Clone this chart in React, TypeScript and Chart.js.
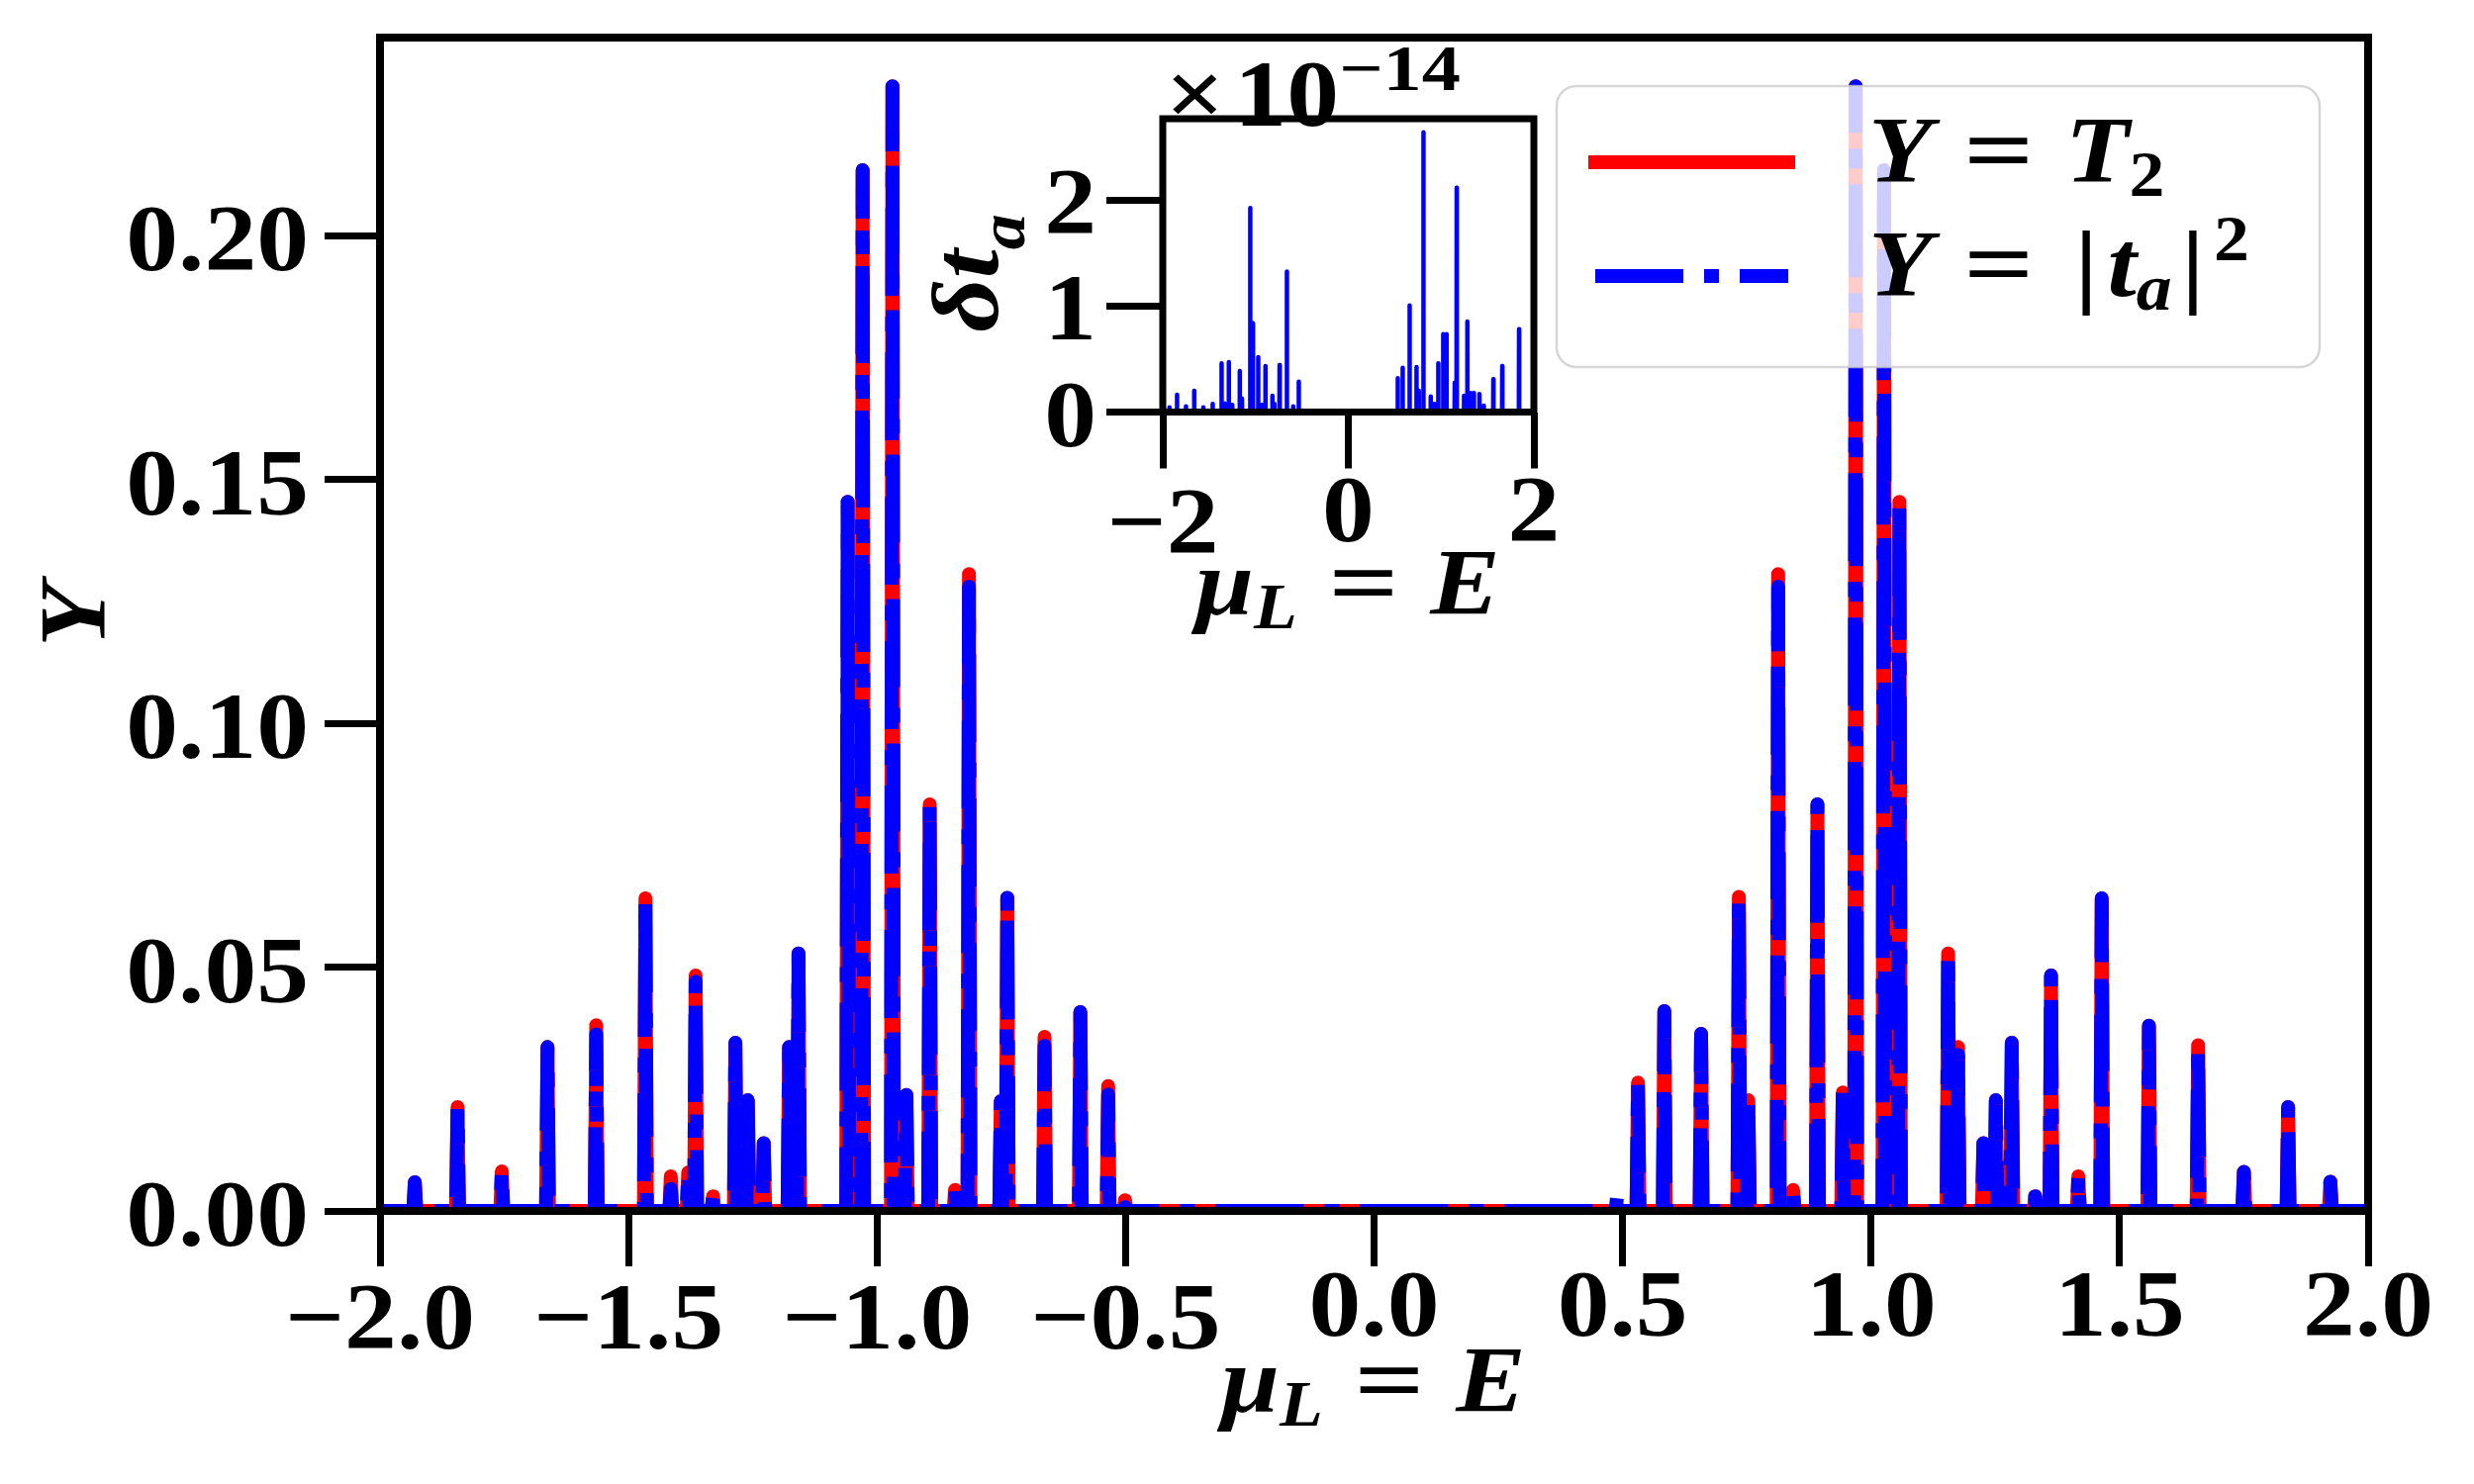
import * as React from 'react';
import Chart from 'chart.js/auto';

// main plot: resonance positions (mu_L = E) and peak heights of both curves
const peakE = [-1.930, -1.844, -1.755, -1.663, -1.565, -1.466, -1.415, -1.380, -1.365, -1.330, -1.285, -1.260, -1.228, -1.177, -1.158, -1.059, -1.029, -0.969, -0.941, -0.894, -0.843, -0.815, -0.751, -0.738, -0.663, -0.591, -0.535, -0.501,
    0.489, 0.531, 0.584, 0.658, 0.734, 0.753, 0.813, 0.843, 0.892, 0.943, 0.969, 1.026, 1.057, 1.155, 1.175, 1.226, 1.251, 1.283, 1.330, 1.362, 1.417, 1.464, 1.559, 1.658, 1.750, 1.839, 1.924];
const peakT2 = [0.0059, 0.0213, 0.0081, 0.0336, 0.0381, 0.0641, 0.0071, 0.0079, 0.0483, 0.0030, 0.0345, 0.0227, 0.0139, 0.0336, 0.0528, 0.1454, 0.2134, 0.2306, 0.0238, 0.0834, 0.0043, 0.1306, 0.0225, 0.0642, 0.0357, 0.0408, 0.0256, 0.0022,
    0.0010, 0.0263, 0.0410, 0.0363, 0.0644, 0.0227, 0.1306, 0.0043, 0.0834, 0.0243, 0.2306, 0.2134, 0.1454, 0.0528, 0.0336, 0.0139, 0.0227, 0.0345, 0.0030, 0.0483, 0.0071, 0.0641, 0.0380, 0.0340, 0.0080, 0.0213, 0.0060];
const peakTa = [0.0059, 0.0210, 0.0080, 0.0336, 0.0362, 0.0641, 0.0045, 0.0079, 0.0470, 0.0030, 0.0345, 0.0227, 0.0139, 0.0336, 0.0528, 0.1454, 0.2134, 0.2306, 0.0238, 0.0834, 0.0043, 0.1280, 0.0225, 0.0642, 0.0339, 0.0408, 0.0239, 0.0008,
    0.0030, 0.0263, 0.0410, 0.0363, 0.0644, 0.0227, 0.1280, 0.0043, 0.0834, 0.0243, 0.2306, 0.2134, 0.1454, 0.0528, 0.0320, 0.0139, 0.0227, 0.0345, 0.0030, 0.0483, 0.0071, 0.0641, 0.0380, 0.0328, 0.0080, 0.0213, 0.0060];

const xTicks = [-2, -1.5, -1, -0.5, 0, 0.5, 1, 1.5, 2];
const yTicks = [0, 0.05, 0.10, 0.15, 0.20];

// inset: delta t_a, in units of 1e-14
const insetE = [-1.929, -1.847, -1.751, -1.662, -1.563, -1.463, -1.367, -1.335, -1.289, -1.253, -1.171, -1.147, -1.058, -1.029, -0.972, -0.933, -0.894, -0.819, -0.798, -0.741, -0.663, -0.595, -0.535, -0.489,
    0.532, 0.585, 0.660, 0.734, 0.759, 0.809, 0.887, 0.926, 0.969, 1.022, 1.058, 1.147, 1.168, 1.246, 1.282, 1.317, 1.353, 1.413, 1.459, 1.563, 1.659, 1.751, 1.840, 1.922];
const insetV = [0.045, 0.163, 0.054, 0.20, 0.045, 0.076, 0.459, 0.082, 0.471, 0.067, 0.387, 0.129, 1.926, 0.838, 0.518, 0.067, 0.434, 0.154, 0.076, 0.443, 1.326, 0.054, 0.287, 0.014,
    0.319, 0.418, 1.006, 0.424, 0.20, 2.642, 0.147, 0.076, 0.459, 0.735, 0.735, 0.278, 2.119, 0.154, 0.854, 0.179, 0.179, 0.170, 0.061, 0.310, 0.434, 0.01, 0.782, 0.01];
const insetXTicks = [-2, 0, 2];
const insetYTicks = [0, 1, 2];

const FAM = '"Liberation Serif"';
const FS = 96;
const SX = 1.1; // glyphs are drawn a bit wider to get closer to the wide TeX bold

type Seg = { t: string; it?: boolean; s?: 'sub' | 'sup'; pad?: number; sx?: number; dy?: number };

const minus = (v: number, d: number) => (v < 0 ? '\u2212' : '') + Math.abs(v).toFixed(d);

function spikes(es: number[], hs: number[], hw: number) {
    const pts: { x: number; y: number }[] = [{ x: -2, y: 0 }];
    es.forEach((e, i) => {
        pts.push({ x: e - hw, y: 0 }, { x: e, y: hs[i] }, { x: e + hw, y: 0 });
    });
    pts.push({ x: 2, y: 0 });
    return pts;
}

function drawMath(ctx: CanvasRenderingContext2D, segs: Seg[], x: number, y: number, size: number, align: 'left' | 'center' | 'right') {
    const items = segs.map(sg => {
        const sz = sg.s ? size * 0.68 : size;
        const font = `${sg.it ? 'italic ' : ''}bold ${sz}px ${FAM}`;
        ctx.font = font;
        const pad = (sg.pad || 0) * size;
        const sx = sg.sx || SX;
        return { sg, font, pad, sx, w: ctx.measureText(sg.t).width * sx + 2 * pad };
    });
    const total = items.reduce((a, b) => a + b.w, 0);
    let cx = align === 'center' ? x - total / 2 : align === 'right' ? x - total : x;
    ctx.fillStyle = '#000';
    ctx.textAlign = 'left';
    ctx.textBaseline = 'alphabetic';
    for (const it of items) {
        ctx.font = it.font;
        const dy = it.sg.dy !== undefined ? it.sg.dy * size : it.sg.s === 'sub' ? 0.15 * size : it.sg.s === 'sup' ? -0.38 * size : 0;
        ctx.save();
        ctx.translate(cx + it.pad, y + dy);
        ctx.scale(it.sx, 1);
        ctx.fillText(it.sg.t, 0, 0);
        ctx.restore();
        cx += it.w;
    }
}

const gridOpts = (len: number) => ({
    display: true,
    drawOnChartArea: false,
    drawTicks: true,
    tickLength: len,
    tickWidth: 7,
    tickColor: '#000',
});

const frame = (w: number) => ({
    id: 'frame' + w,
    afterDatasetsDraw(chart: any) {
        const { ctx, chartArea: a } = chart;
        ctx.save();
        ctx.strokeStyle = '#000';
        ctx.lineWidth = w;
        ctx.lineJoin = 'miter';
        ctx.strokeRect(a.left, a.top, a.right - a.left, a.bottom - a.top);
        ctx.restore();
    },
});

// tick labels are placed at the positions Chart.js gives for its ticks
const tickLabels = (o: { xBase: number; xBaseNeg: number; xDec: number; yRight: number; yOff: number; yDec: number }) => ({
    id: 'tickLabels',
    afterDraw(chart: any) {
        const ctx: CanvasRenderingContext2D = chart.ctx;
        const xs = chart.scales.x;
        const ys = chart.scales.y;
        ctx.save();
        xs.ticks.forEach((t: any) => {
            const px = xs.getPixelForValue(t.value);
            drawMath(ctx, [{ t: minus(t.value, o.xDec) }], px, t.value < 0 ? o.xBaseNeg : o.xBase, FS, 'center');
        });
        ys.ticks.forEach((t: any) => {
            const py = ys.getPixelForValue(t.value);
            drawMath(ctx, [{ t: minus(t.value, o.yDec) }], o.yRight, py + o.yOff, FS, 'right');
        });
        ctx.restore();
    },
});

const EQ: Seg = { t: '=', pad: 0.33, sx: 1.3 };

const mainText = {
    id: 'mainText',
    afterDraw(chart: any) {
        const ctx: CanvasRenderingContext2D = chart.ctx;
        ctx.save();
        drawMath(ctx, [{ t: 'μ', it: true }, { t: 'L', it: true, s: 'sub' }, EQ, { t: 'E', it: true }], 1388, 1427, FS, 'center');
        ctx.save();
        ctx.translate(106, 622);
        ctx.rotate(-Math.PI / 2);
        drawMath(ctx, [{ t: 'Y', it: true }], 0, 0, FS, 'center');
        ctx.restore();

        // legend
        ctx.beginPath();
        ctx.roundRect(1573, 87, 771, 284, 20);
        ctx.fillStyle = 'rgba(255,255,255,0.8)';
        ctx.fill();
        ctx.strokeStyle = 'rgba(204,204,204,0.8)';
        ctx.lineWidth = 2.5;
        ctx.stroke();

        ctx.lineWidth = 14;
        ctx.strokeStyle = '#ff0000';
        ctx.lineCap = 'square';
        ctx.beginPath();
        ctx.moveTo(1612, 164);
        ctx.lineTo(1807, 164);
        ctx.stroke();

        ctx.strokeStyle = '#0000ff';
        ctx.lineCap = 'butt';
        ctx.setLineDash([89, 21, 15, 21]);
        ctx.beginPath();
        ctx.moveTo(1612, 279);
        ctx.lineTo(1807, 279);
        ctx.stroke();
        ctx.setLineDash([]);

        drawMath(ctx, [{ t: 'Y', it: true }, EQ, { t: 'T', it: true }, { t: '2', s: 'sub' }], 1888, 184, FS, 'left');
        drawMath(ctx, [{ t: 'Y', it: true }, EQ, { t: '|', pad: 0.1 }, { t: 't', it: true }, { t: 'a', it: true, s: 'sub' }, { t: '|', pad: 0.1 }, { t: '2', s: 'sup' }], 1888, 299, FS, 'left');
        ctx.restore();
    },
};

// the inset canvas sits at left 900 on the page
const INSET_X = 900;

const insetText = {
    id: 'insetText',
    beforeDatasetsDraw(chart: any) {
        const { ctx, chartArea: a } = chart;
        ctx.save();
        ctx.fillStyle = '#fff';
        ctx.fillRect(a.left, a.top, a.right - a.left, a.bottom - a.top);
        ctx.restore();
    },
    afterDraw(chart: any) {
        const ctx: CanvasRenderingContext2D = chart.ctx;
        ctx.save();
        drawMath(ctx, [{ t: '×', pad: 0.1 }, { t: '10' }, { t: '\u221214', s: 'sup', sx: 1.2 }], 1168 - INSET_X, 127, FS, 'left');
        drawMath(ctx, [{ t: 'μ', it: true }, { t: 'L', it: true, s: 'sub' }, EQ, { t: 'E', it: true }], 1362 - INSET_X, 621, FS, 'center');
        ctx.save();
        ctx.translate(1008 - INSET_X, 276);
        ctx.rotate(-Math.PI / 2);
        drawMath(ctx, [{ t: 'δ', it: true }, { t: 't', it: true }, { t: 'a', it: true, s: 'sub', dy: 0.28 }], 0, 0, FS, 'center');
        ctx.restore();
        ctx.restore();
    },
};

export default function App() {
    const mainRef = React.useRef<HTMLCanvasElement>(null);
    const insetRef = React.useRef<HTMLCanvasElement>(null);

    React.useEffect(() => {
        let mainChart: Chart | null = null;
        let insetChart: Chart | null = null;

        if (mainRef.current) {
            mainChart = new Chart(mainRef.current.getContext('2d')!, {
                type: 'scatter',
                data: {
                    datasets: [
                        {
                            label: 'Y = |t_a|^2',
                            data: spikes(peakE, peakTa, 0.003),
                            showLine: true,
                            borderColor: '#0000ff',
                            borderWidth: 14,
                            borderDash: [89, 21, 15, 21],
                            borderCapStyle: 'butt',
                            borderJoinStyle: 'round',
                            pointRadius: 0,
                        },
                        {
                            label: 'Y = T_2',
                            data: spikes(peakE, peakT2, 0.003),
                            showLine: true,
                            borderColor: '#ff0000',
                            borderWidth: 14,
                            borderCapStyle: 'square',
                            borderJoinStyle: 'round',
                            pointRadius: 0,
                        },
                    ],
                },
                options: {
                    animation: false,
                    responsive: false,
                    devicePixelRatio: 1,
                    layout: { padding: { left: 0, top: 38, right: 107, bottom: 0 } },
                    plugins: { legend: { display: false }, tooltip: { enabled: false } },
                    scales: {
                        x: {
                            type: 'linear',
                            min: -2,
                            max: 2,
                            afterBuildTicks: (s: any) => { s.ticks = xTicks.map(v => ({ value: v })); },
                            afterFit: (s: any) => { s.height = 1500 - 1224; s.paddingLeft = 0; s.paddingRight = 0; },
                            ticks: { display: false },
                            grid: gridOpts(56),
                            border: { display: false },
                        },
                        y: {
                            type: 'linear',
                            min: 0,
                            max: 0.2406,
                            afterBuildTicks: (s: any) => { s.ticks = yTicks.map(v => ({ value: v })); },
                            afterFit: (s: any) => { s.width = 384; s.paddingTop = 0; s.paddingBottom = 0; },
                            ticks: { display: false },
                            grid: gridOpts(56),
                            border: { display: false },
                        },
                    },
                },
                plugins: [frame(8), tickLabels({ xBase: 1350, xBaseNeg: 1363, xDec: 1, yRight: 312, yOff: 35, yDec: 2 }), mainText],
            });
        }

        if (insetRef.current) {
            insetChart = new Chart(insetRef.current.getContext('2d')!, {
                type: 'scatter',
                data: {
                    datasets: [
                        {
                            label: 'delta t_a',
                            data: spikes(insetE, insetV, 0.002),
                            showLine: true,
                            borderColor: '#0000ff',
                            borderWidth: 4.5,
                            borderJoinStyle: 'round',
                            borderCapStyle: 'square',
                            pointRadius: 0,
                        },
                    ],
                },
                options: {
                    animation: false,
                    responsive: false,
                    devicePixelRatio: 1,
                    layout: { padding: { left: 0, top: 120, right: 50, bottom: 0 } },
                    plugins: { legend: { display: false }, tooltip: { enabled: false } },
                    scales: {
                        x: {
                            type: 'linear',
                            min: -2,
                            max: 2,
                            afterBuildTicks: (s: any) => { s.ticks = insetXTicks.map(v => ({ value: v })); },
                            afterFit: (s: any) => { s.height = 700 - 416.5; s.paddingLeft = 0; s.paddingRight = 0; },
                            ticks: { display: false },
                            grid: gridOpts(57),
                            border: { display: false },
                        },
                        y: {
                            type: 'linear',
                            min: 0,
                            max: 2.77,
                            afterBuildTicks: (s: any) => { s.ticks = insetYTicks.map(v => ({ value: v })); },
                            afterFit: (s: any) => { s.width = 1175 - INSET_X; s.paddingTop = 0; s.paddingBottom = 0; },
                            ticks: { display: false },
                            grid: gridOpts(57),
                            border: { display: false },
                        },
                    },
                },
                plugins: [insetText, frame(7), tickLabels({ xBase: 547, xBaseNeg: 559, xDec: 0, yRight: 1108 - INSET_X, yOff: 34, yDec: 0 })],
            });
        }

        return () => {
            if (mainChart) {
                mainChart.destroy();
            }
            if (insetChart) {
                insetChart.destroy();
            }
        };
    }, []);

    return (
        <div style={{ position: 'absolute', left: 0, top: 0, width: 2500, height: 1500, background: '#fff' }}>
            <canvas ref={mainRef} width={2500} height={1500} style={{ position: 'absolute', left: 0, top: 0 }}></canvas>
            <canvas ref={insetRef} width={700} height={700} style={{ position: 'absolute', left: INSET_X, top: 0 }}></canvas>
        </div>
    );
}
